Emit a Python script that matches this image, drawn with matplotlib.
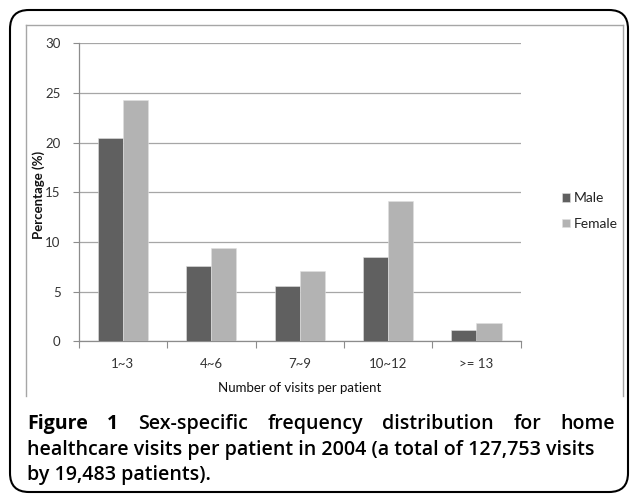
import matplotlib
matplotlib.use("Agg")
import matplotlib.pyplot as plt
import numpy as np
from matplotlib.patches import FancyBboxPatch
from matplotlib.lines import Line2D

categories = ["1~3", "4~6", "7~9", "10~12", ">= 13"]
male = [20.5, 7.6, 5.6, 8.5, 1.1]
female = [24.3, 9.4, 7.1, 14.1, 1.8]
yticks = [0, 5, 10, 15, 20, 25, 30]

W, H = 630, 494
fig = plt.figure(figsize=(W / 100, H / 100), dpi=100)
fig.patch.set_facecolor("white")

def fx(px):
    return px / W

def fy(py):
    return 1 - py / H

# outer rounded border
border = FancyBboxPatch((fx(10), fy(492)), fx(618), (492 - 10) / H,
                        boxstyle="round,pad=0,rounding_size=0.03",
                        transform=fig.transFigure, fill=False,
                        edgecolor="black", linewidth=1.5, mutation_aspect=W / H)
fig.patches.append(border)

# inner gray frame (left, top, right)
for xs, ys in [((26, 26), (25, 396)), ((26, 623), (25, 25)), ((623, 623), (25, 396))]:
    fig.add_artist(Line2D([fx(xs[0]), fx(xs[1])], [fy(ys[0]), fy(ys[1])],
                          transform=fig.transFigure, color="#a6a6a6", linewidth=1.0))

ax = fig.add_axes([fx(78.7), fy(341.2), fx(520.7) - fx(78.7), fy(43.2) - fy(341.2)])
x = np.arange(len(categories))
bw = 0.283
ax.bar(x - bw / 2, male, bw, color="#606060", edgecolor="#e0e0e0", linewidth=0.4, label="Male", zorder=3)
ax.bar(x + bw / 2, female, bw, color="#b3b3b3", edgecolor="#e0e0e0", linewidth=0.4, label="Female", zorder=3)

ax.set_xlim(-0.5, len(categories) - 0.5)
ax.set_ylim(0, 30)
ax.set_yticks(yticks)
ax.set_yticklabels([str(v) for v in yticks], fontsize=9.5, color="#333333", family="Lato")
ax.set_xticks(np.arange(-0.5, len(categories), 1.0))
ax.set_xticklabels([])
ax.set_xticks(x, minor=True)
ax.set_xticklabels(categories, minor=True, fontsize=9.5, color="#333333", family="Lato")
ax.tick_params(axis="x", which="major", length=5, color="#8c8c8c", direction="out")
ax.tick_params(axis="x", which="minor", length=0, pad=12)
ax.tick_params(axis="y", length=4, color="#8c8c8c", pad=9)
ax.grid(axis="y", color="#a6a6a6", linewidth=0.9, zorder=0)
for s in ["top", "right"]:
    ax.spines[s].set_visible(False)
for s in ["left", "bottom"]:
    ax.spines[s].set_color("#8c8c8c")
    ax.spines[s].set_linewidth(0.9)

fig.text(fx(300), fy(388), "Number of visits per patient", ha="center", va="center",
         fontsize=9.5, family="Lato", color="#111111")
fig.text(fx(39), fy(195), "Percentage (%)", ha="center", va="center", rotation=90,
         fontsize=9.5, family="Lato", fontweight="bold", color="#111111")

leg = ax.legend(loc="center left", frameon=False,
                handlelength=0.6, handleheight=0.6, handletextpad=0.3,
                labelspacing=1.0, prop={"family": "Lato", "size": 10})
leg.set_bbox_to_anchor((fx(549), fy(211)), transform=fig.transFigure)
for t in leg.get_texts():
    t.set_color("#222222")

# caption
cap_font = "Open Sans"
fig.canvas.draw()
renderer = fig.canvas.get_renderer()

left_px = 27
line2 = "healthcare visits per patient in 2004 (a total of 127,753 visits"
probe = fig.text(0, 0, line2, fontsize=10, family=cap_font, fontweight="semibold")
pw = probe.get_window_extent(renderer).width
probe.remove()
cap_size = 10 * (593 - left_px) / pw

line1 = [("Figure", "bold"), ("1", "bold"), ("Sex-specific", "semibold"), ("frequency", "semibold"),
         ("distribution", "semibold"), ("for", "semibold"), ("home", "semibold")]
right_px = 615
texts = []
widths = []
for w, b in line1:
    t = fig.text(0, 0, w, fontsize=cap_size, family=cap_font,
                 fontweight=b, color="black", va="baseline")
    texts.append(t)
    widths.append(t.get_window_extent(renderer).width)
gap = (right_px - left_px - sum(widths)) / (len(line1) - 1)
cur = left_px
for t, wd in zip(texts, widths):
    t.set_position((fx(cur), fy(429)))
    cur += wd + gap

fig.text(fx(left_px), fy(455), line2, fontsize=cap_size, family=cap_font,
         fontweight="semibold", va="baseline", color="black")
fig.text(fx(left_px), fy(480), "by 19,483 patients).", fontsize=cap_size, family=cap_font,
         fontweight="semibold", va="baseline", color="black")

fig.savefig("out.png", dpi=100, facecolor="white")
